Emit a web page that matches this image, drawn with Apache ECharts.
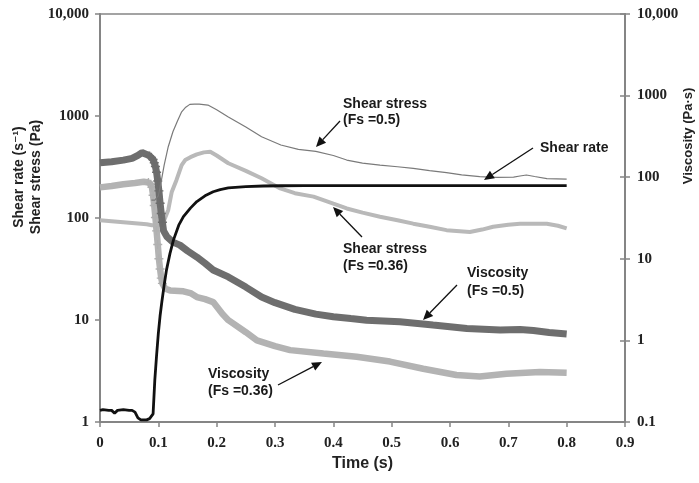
<!DOCTYPE html>
<html>
<head>
<meta charset="utf-8">
<script src="https://cdn.jsdelivr.net/npm/echarts@6/dist/echarts.min.js"></script>
<style>html,body{margin:0;padding:0;background:#fff}#c{width:699px;height:483px}</style>
</head>
<body>
<div id="c"></div>
<script>
// ---- data (time in s) ----
const rateT = [0,0.005,0.015,0.02,0.025,0.03,0.04,0.05,0.055,0.06,0.065,0.07,0.08,0.085,0.088,0.091,0.094,0.097,0.1,0.103,0.106,0.11,0.114,0.12,0.126,0.135,0.143,0.155,0.166,0.18,0.194,0.206,0.22,0.25,0.28,0.31,0.35,0.4,0.5,0.6,0.7,0.8];
const rateV = [1.3,1.32,1.3,1.3,1.22,1.3,1.32,1.3,1.3,1.25,1.1,1.05,1.05,1.08,1.1,1.2,2.6,4.5,7.4,11,15,22,31,45,61,85,103,125,145,165,181,190,197,203,206,207,208,208,208,208,208,208];

const stress05T = [0.088,0.094,0.1,0.105,0.11,0.117,0.125,0.133,0.14,0.147,0.154,0.162,0.17,0.185,0.2,0.22,0.25,0.277,0.31,0.34,0.37,0.4,0.423,0.45,0.48,0.51,0.537,0.565,0.594,0.62,0.651,0.68,0.709,0.72,0.731,0.745,0.766,0.8];
const stress05V = [150,150,165,230,330,500,700,900,1100,1220,1300,1310,1310,1280,1150,980,780,625,520,470,450,410,370,345,330,318,307,292,278,265,254,250,252,258,264,255,243,240];

const stress036T = [0,0.02,0.04,0.06,0.08,0.089,0.1,0.11,0.117,0.123,0.131,0.14,0.146,0.155,0.166,0.178,0.189,0.2,0.22,0.25,0.277,0.309,0.334,0.366,0.4,0.423,0.45,0.48,0.51,0.537,0.565,0.594,0.634,0.655,0.674,0.7,0.72,0.766,0.785,0.8];
const stress036V = [95,93,91,89,87,85,85,95,120,180,235,330,370,395,420,440,446,410,344,290,245,195,175,162,138,124,113,103,95,88,82,76,73,77,82,86,88,88,84,79];

const visc05T = [0,0.02,0.04,0.055,0.065,0.072,0.08,0.085,0.088,0.091,0.093,0.095,0.097,0.099,0.101,0.103,0.105,0.107,0.109,0.115,0.125,0.137,0.15,0.166,0.18,0.194,0.22,0.25,0.277,0.3,0.334,0.37,0.4,0.43,0.457,0.514,0.571,0.6,0.629,0.686,0.72,0.743,0.77,0.8];
const visc05V = [150,155,162,170,185,200,190,182,175,165,150,135,115,90,68,48,36,28,22,18.5,16,14.7,12.5,10.5,8.8,7.3,6.0,4.5,3.4,2.9,2.4,2.1,1.95,1.85,1.77,1.69,1.54,1.47,1.40,1.34,1.36,1.32,1.25,1.2];

const visc036T = [0,0.02,0.04,0.06,0.075,0.083,0.087,0.089,0.091,0.093,0.095,0.097,0.099,0.101,0.103,0.105,0.107,0.112,0.12,0.143,0.155,0.166,0.18,0.194,0.21,0.22,0.25,0.269,0.3,0.326,0.383,0.44,0.497,0.554,0.611,0.651,0.697,0.754,0.8];
const visc036V = [75,78,82,85,88,86,82,75,60,45,32,22,15,10,7.5,5.8,5,4.3,4.1,4.0,3.8,3.4,3.2,2.95,2.1,1.77,1.26,1.0,0.85,0.76,0.69,0.63,0.55,0.45,0.376,0.36,0.39,0.41,0.40];

const xTicks = [0,0.1,0.2,0.3,0.4,0.5,0.6,0.7,0.8,0.9];
const leftTickLabels = {1:'1',10:'10',100:'100',1000:'1000',10000:'10,000'};
const rightTickLabels = {0.1:'0.1',1:'1',10:'10',100:'100',1000:'1000',10000:'10,000'};

const crossSym = 'path://M4.2,0H5.8V4.2H10V5.8H5.8V10H4.2V5.8H0V4.2H4.2Z';
function pts(T, V, lo, hi, col) {
  return T.map((t, i) => {
    const d = {value: [t, V[i]]};
    if (lo !== undefined && t >= lo && t <= hi) {
      d.symbol = crossSym; d.symbolSize = 9; d.itemStyle = {color: col};
    }
    return d;
  });
}
function fmt(map) {
  return v => { const k = Math.round(v * 1000) / 1000; return map[k] !== undefined ? map[k] : ''; };
}

// annotation helpers
const annFont = 'bold 14px "Liberation Sans", Arial, sans-serif';
function txt(x, y, s) {
  return {type: 'text', x: x, y: y, style: {text: s, font: annFont, fill: '#1a1a1a', textVerticalAlign: 'middle'}, z: 100};
}
function arrow(x1, y1, x2, y2) {
  const dx = x2 - x1, dy = y2 - y1, L = Math.sqrt(dx*dx + dy*dy);
  const ux = dx / L, uy = dy / L, hl = 10, hw = 4.5;
  const bx = x2 - ux*hl, by = y2 - uy*hl;
  return [
    {type: 'line', shape: {x1: x1, y1: y1, x2: bx, y2: by}, style: {stroke: '#111', lineWidth: 1.3}, z: 100},
    {type: 'polygon', shape: {points: [[x2, y2], [bx - uy*hw, by + ux*hw], [bx + uy*hw, by - ux*hw]]}, style: {fill: '#111'}, z: 100}
  ];
}

const chart = echarts.init(document.getElementById('c'), null, {renderer: 'canvas'});
const axisCol = '#858585';
const serifLbl = {fontFamily: '"Liberation Serif", "Times New Roman", serif', fontWeight: 'bold', color: '#222'};

const graphics = [
  {type: 'text', x: 19, y: 177, rotation: Math.PI/2, style: {text: 'Shear rate (s\u207B\u00B9)', font: 'bold 14px "Liberation Sans", "DejaVu Sans", sans-serif', fill: '#222', textAlign: 'center', textVerticalAlign: 'middle'}},
  {type: 'text', x: 36, y: 177, rotation: Math.PI/2, style: {text: 'Shear stress (Pa)', font: 'bold 14px "Liberation Sans", sans-serif', fill: '#222', textAlign: 'center', textVerticalAlign: 'middle'}},
  {type: 'text', x: 688, y: 136, rotation: Math.PI/2, style: {text: 'Viscosity (Pa\u00B7s)', font: 'bold 13px "Liberation Sans", sans-serif', fill: '#222', textAlign: 'center', textVerticalAlign: 'middle'}},
  txt(343, 104, 'Shear stress'), txt(343, 120, '(Fs =0.5)'),
  txt(540, 148, 'Shear rate'),
  txt(343, 249, 'Shear stress'), txt(343, 266, '(Fs =0.36)'),
  txt(467, 273, 'Viscosity'), txt(467, 291, '(Fs =0.5)'),
  txt(208, 374, 'Viscosity'), txt(208, 391, '(Fs =0.36)')
].concat(arrow(340, 121, 316, 147), arrow(533, 148, 484, 180), arrow(362, 237, 333, 207),
         arrow(457, 285, 423, 320), arrow(278, 385, 322, 362));

chart.setOption({
  animation: false,
  backgroundColor: '#fff',
  grid: {left: 100, right: 74, top: 14, bottom: 61, show: true, borderColor: axisCol, borderWidth: 1.5},
  xAxis: {
    type: 'value', min: 0, max: 0.9, interval: 0.1,
    name: 'Time (s)', nameLocation: 'middle', nameGap: 32,
    nameTextStyle: {fontFamily: '"Liberation Sans", sans-serif', fontWeight: 'bold', fontSize: 16, color: '#222'},
    axisLine: {lineStyle: {color: axisCol, width: 2}},
    axisTick: {show: true, length: 5, lineStyle: {color: axisCol, width: 1.5}},
    axisLabel: Object.assign({fontSize: 15, margin: 14, formatter: v => { const s = (Math.round(v*10)/10).toFixed(1); return s === '0.0' ? '0' : s; }}, serifLbl),
    splitLine: {show: false}
  },
  yAxis: [
    {type: 'log', logBase: 10, min: 1, max: 10000, position: 'left',
     axisLine: {show: true, lineStyle: {color: axisCol, width: 2}},
     axisTick: {show: true, length: 5, lineStyle: {color: axisCol, width: 1.5}},
     axisLabel: Object.assign({fontSize: 15, margin: 11, formatter: fmt(leftTickLabels)}, serifLbl),
     splitLine: {show: false}, minorTick: {show: false}},
    {type: 'log', logBase: 10, min: 0.1, max: 10000, position: 'right',
     axisLine: {show: true, lineStyle: {color: axisCol, width: 2}},
     axisTick: {show: true, length: 5, lineStyle: {color: axisCol, width: 1.5}},
     axisLabel: Object.assign({fontSize: 15, margin: 12, formatter: fmt(rightTickLabels)}, serifLbl),
     splitLine: {show: false}},
    {type: 'log', logBase: 10, min: 0.1, max: 10000, position: 'right',
     axisLine: {show: false},
     axisTick: {show: true, inside: true, length: 5, lineStyle: {color: axisCol, width: 1.5}},
     axisLabel: {show: false}, splitLine: {show: false}}
  ],
  series: [
    {name: 'Shear stress (Fs=0.36)', type: 'line', yAxisIndex: 0, symbol: 'none', data: pts(stress036T, stress036V),
     lineStyle: {color: '#b9b9b9', width: 4}, z: 2},
    {name: 'Viscosity (Fs=0.36)', type: 'line', yAxisIndex: 1, symbol: 'none', showSymbol: true,
     data: pts(visc036T, visc036V, 0.083, 0.107, '#b0b0b0'),
     lineStyle: {color: '#b3b3b3', width: 6.5}, z: 3},
    {name: 'Viscosity (Fs=0.5)', type: 'line', yAxisIndex: 1, symbol: 'none', showSymbol: true,
     data: pts(visc05T, visc05V, 0.085, 0.107, '#6c6c6c'),
     lineStyle: {color: '#6e6e6e', width: 7}, z: 4},
    {name: 'Shear stress (Fs=0.5)', type: 'line', yAxisIndex: 0, symbol: 'none', data: pts(stress05T, stress05V),
     lineStyle: {color: '#7a7a7a', width: 1.2}, z: 5},
    {name: 'Shear rate', type: 'line', yAxisIndex: 0, symbol: 'none', data: pts(rateT, rateV),
     lineStyle: {color: '#111', width: 2.8}, z: 6}
  ],
  graphic: graphics
});
</script>
</body>
</html>
